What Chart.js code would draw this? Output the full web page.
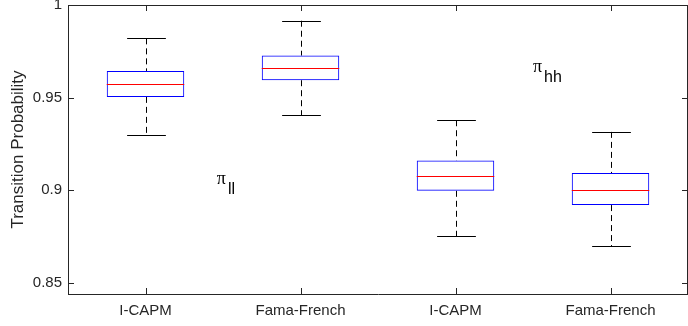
<!DOCTYPE html>
<html>
<head>
<meta charset="utf-8">
<script src="https://cdn.jsdelivr.net/npm/chart.js@4.4.1/dist/chart.umd.min.js"></script>
<style>
    html, body { margin: 0; padding: 0; background: #fff; }
    #wrap { width: 688px; height: 326px; }
</style>
</head>
<body>
<div id="wrap"><canvas id="boxChart"></canvas></div>
<script>
// Box plot values
const categories = ['I-CAPM', 'Fama-French', 'I-CAPM', 'Fama-French'];
const whiskerLow = [0.9300, 0.9405, 0.8751, 0.8697];
const q1 = [0.9504, 0.9594, 0.8997, 0.8920];
const medians = [0.9576, 0.9659, 0.9078, 0.9001];
const q3 = [0.9644, 0.9727, 0.9161, 0.9093];
const whiskerHigh = [0.9820, 0.9915, 0.9378, 0.9315];
const yTicks = [0.85, 0.9, 0.95, 1];

// pi labels placed in data units (category index, probability)
const noteX = [0.46, 2.5];
const noteY = [0.9035, 0.9639];
const noteSub = ['ll', 'hh'];

const axisColor = '#262626';
const fontFamily = "'Liberation Sans', Arial, Helvetica, sans-serif";

// whiskers, caps and medians drawn through the chart scales
const boxParts = {
    id: 'boxParts',
    beforeDatasetsDraw(chart) {
        const { ctx, scales: { y } } = chart;
        const meta = chart.getDatasetMeta(0);
        ctx.save();
        meta.data.forEach((bar, i) => {
            const cx = Math.round(bar.x) + 0.5;
            const capHalf = bar.width / 4;
            const yHi = y.getPixelForValue(whiskerHigh[i]);
            const yLo = y.getPixelForValue(whiskerLow[i]);
            // dashed whiskers
            ctx.strokeStyle = '#000';
            ctx.lineWidth = 1;
            ctx.setLineDash([6, 4]);
            ctx.beginPath();
            ctx.moveTo(cx, yHi);
            ctx.lineTo(cx, y.getPixelForValue(q3[i]));
            ctx.moveTo(cx, y.getPixelForValue(q1[i]));
            ctx.lineTo(cx, yLo);
            ctx.stroke();
            // caps
            ctx.setLineDash([]);
            ctx.beginPath();
            ctx.moveTo(cx - capHalf, Math.round(yHi) + 0.5);
            ctx.lineTo(cx + capHalf, Math.round(yHi) + 0.5);
            ctx.moveTo(cx - capHalf, Math.round(yLo) + 0.5);
            ctx.lineTo(cx + capHalf, Math.round(yLo) + 0.5);
            ctx.stroke();
        });
        ctx.restore();
    },
    afterDatasetsDraw(chart) {
        const { ctx, scales: { x, y } } = chart;
        const meta = chart.getDatasetMeta(0);
        ctx.save();
        ctx.strokeStyle = '#ff0000';
        ctx.lineWidth = 1;
        meta.data.forEach((bar, i) => {
            const ym = Math.round(y.getPixelForValue(medians[i])) + 0.5;
            ctx.beginPath();
            ctx.moveTo(bar.x - bar.width / 2, ym);
            ctx.lineTo(bar.x + bar.width / 2, ym);
            ctx.stroke();
        });

        // pi annotations
        ctx.fillStyle = '#000';
        ctx.textAlign = 'left';
        ctx.textBaseline = 'alphabetic';
        noteSub.forEach((sub, i) => {
            const px = x.getPixelForValue(noteX[i]);
            const py = y.getPixelForValue(noteY[i]);
            ctx.font = "18px 'Liberation Serif', 'DejaVu Serif', serif";
            ctx.fillText('\u03c0', px, py);
            const w = ctx.measureText('\u03c0').width;
            ctx.font = '16px ' + fontFamily;
            ctx.fillText(sub, px + w + 2, py + 10);
        });
        ctx.restore();
    },
    afterDraw(chart) {
        // MATLAB style frame with inward ticks
        const { ctx, chartArea: a, scales: { x, y } } = chart;
        const len = 6;
        ctx.save();
        ctx.strokeStyle = axisColor;
        ctx.lineWidth = 1;
        ctx.beginPath();
        ctx.moveTo(a.left, a.top + 0.5);
        ctx.lineTo(a.right, a.top + 0.5);
        ctx.moveTo(a.right - 0.5, a.top);
        ctx.lineTo(a.right - 0.5, a.bottom);
        y.ticks.forEach(t => {
            const py = Math.round(y.getPixelForValue(t.value)) + 0.5;
            ctx.moveTo(a.left, py);
            ctx.lineTo(a.left + len, py);
            ctx.moveTo(a.right, py);
            ctx.lineTo(a.right - len, py);
        });
        categories.forEach((c, i) => {
            const px = Math.round(x.getPixelForValue(i)) + 0.5;
            ctx.moveTo(px, a.bottom);
            ctx.lineTo(px, a.bottom - len);
            ctx.moveTo(px, a.top);
            ctx.lineTo(px, a.top + len);
        });
        ctx.stroke();
        ctx.restore();
    }
};

const ctx = document.getElementById('boxChart').getContext('2d');
new Chart(ctx, {
    type: 'bar',
    data: {
        labels: categories,
        datasets: [{
            data: categories.map((c, i) => [q1[i], q3[i]]),
            backgroundColor: 'rgba(0,0,0,0)',
            borderColor: '#0000ff',
            borderWidth: 1,
            borderSkipped: false,
            barPercentage: 0.5,
            categoryPercentage: 1
        }]
    },
    options: {
        responsive: true,
        maintainAspectRatio: false,
        animation: false,
        layout: { padding: { top: 5, right: 0, left: 0, bottom: 0 } },
        plugins: {
            legend: { display: false },
            tooltip: { enabled: false }
        },
        scales: {
            x: {
                offset: true,
                grid: { display: false, drawTicks: false },
                border: { display: true, color: axisColor },
                ticks: {
                    color: axisColor,
                    padding: 8,
                    maxRotation: 0,
                    font: { family: fontFamily, size: 15 }
                },
                afterFit(s) {
                    s.height = 32;
                    s.paddingLeft = 0;
                    s.paddingRight = 0;
                }
            },
            y: {
                min: 0.844,
                max: 1,
                grid: { display: false, drawTicks: false },
                border: { display: true, color: axisColor },
                afterBuildTicks(s) {
                    s.ticks = yTicks.map(v => ({ value: v }));
                },
                ticks: {
                    color: axisColor,
                    padding: 6,
                    font: { family: fontFamily, size: 15 },
                    callback: v => String(+v.toFixed(2))
                },
                title: {
                    display: true,
                    text: 'Transition Probability',
                    color: axisColor,
                    padding: { top: 8, bottom: 0 },
                    font: { family: fontFamily, size: 17 }
                },
                afterFit(s) {
                    s.width = 68;
                    s.paddingTop = 0;
                    s.paddingBottom = 0;
                }
            }
        }
    },
    plugins: [boxParts]
});
</script>
</body>
</html>
